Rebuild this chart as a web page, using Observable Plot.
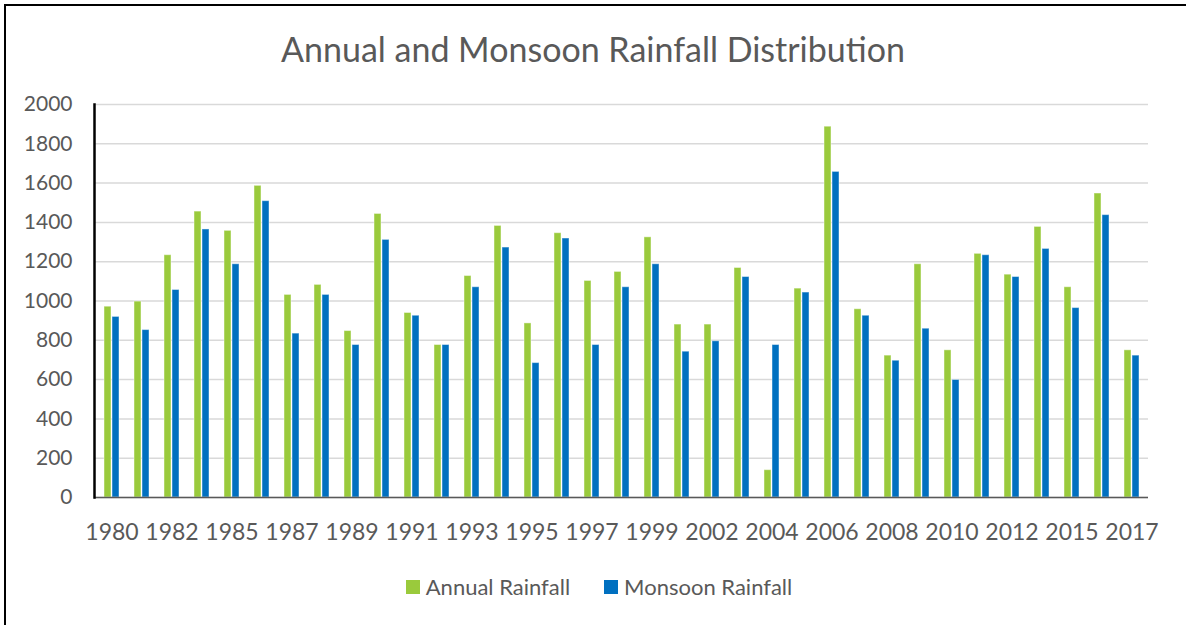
<!DOCTYPE html>
<html>
<head>
<meta charset="utf-8">
<script src="https://cdn.jsdelivr.net/npm/d3@7"></script>
<script src="https://cdn.jsdelivr.net/npm/@observablehq/plot@0.6"></script>
<style>
  html, body { margin: 0; padding: 0; background: #fff; }
  #wrap { position: relative; width: 1186px; height: 625px; overflow: hidden; font-family: Lato, "Open Sans", sans-serif; color: #595959; }
  #frame { position: absolute; left: 4px; top: 4px; right: -10px; bottom: -10px; border-left: 2px solid #000; border-top: 2px solid #000; }
  #title { position: absolute; left: 0; width: 1186px; top: 28px; text-align: center; font-size: 34px; color: #595959; }
  #chart { position: absolute; left: 0; top: 70px; }
  #legend { position: absolute; left: 0; width: 1198px; top: 573px; display: flex; justify-content: center; gap: 34px; font-size: 22px; color: #595959; }
  .item { display: flex; align-items: center; gap: 6px; }
  .sw { width: 14px; height: 14px; display: inline-block; }
</style>
</head>
<body>
<div id="wrap">
  <div id="frame"></div>
  <div id="title">Annual and Monsoon Rainfall Distribution</div>
  <div id="chart"></div>
  <div id="legend"></div>
</div>
<script>
const years = [1980,1981,1982,1984,1985,1986,1987,1988,1989,1990,1991,1992,1993,1994,1995,1996,1997,1998,1999,2001,2002,2003,2004,2005,2006,2007,2008,2009,2010,2011,2012,2014,2015,2016,2017];
const labeledYears = [1980,1982,1985,1987,1989,1991,1993,1995,1997,1999,2002,2004,2006,2008,2010,2012,2015,2017];
const annualRainfall = [971,997,1233,1455,1357,1586,1031,1082,847,1443,939,776,1127,1382,886,1345,1102,1148,1324,880,880,1168,139,1063,1887,958,722,1187,749,1240,1134,1377,1070,1547,749];
const monsoonRainfall = [919,852,1056,1364,1187,1508,834,1031,776,1311,925,776,1070,1272,684,1318,776,1070,1187,742,795,1122,776,1043,1657,925,696,859,598,1233,1122,1265,964,1437,722];
const seriesNames = ["Annual Rainfall", "Monsoon Rainfall"];
const seriesColors = ["#9aca3c", "#0070c0"];
const yTicks = [0,200,400,600,800,1000,1200,1400,1600,1800,2000];

const rows = years.map((y, i) => ({year: y, annual: annualRainfall[i], monsoon: monsoonRainfall[i]}));

const chart = Plot.plot({
  width: 1186,
  height: 500,
  marginTop: 34,
  marginBottom: 73,
  marginLeft: 94,
  marginRight: 38,
  style: {fontFamily: "Lato, 'Open Sans', sans-serif", color: "#595959", background: "transparent"},
  x: {type: "band", domain: years, paddingInner: 0.5, paddingOuter: 0.25, label: null},
  y: {domain: [0, 2000], label: null},
  marks: [
    Plot.ruleY(yTicks, {stroke: "#d9d9d9", strokeWidth: 1.5}),
    Plot.barY(rows, {x: "year", y: "annual", fill: seriesColors[0], insetRight: 8, stroke: "#ffffff", strokeOpacity: 0.45, strokeWidth: 1}),
    Plot.barY(rows, {x: "year", y: "monsoon", fill: seriesColors[1], insetLeft: 8, stroke: "#ffffff", strokeOpacity: 0.45, strokeWidth: 1}),
    Plot.ruleY([0], {stroke: "#595959", strokeWidth: 1.5}),
    Plot.frame({anchor: "left", stroke: "#000", strokeWidth: 2.5}),
    Plot.axisY({ticks: yTicks, tickSize: 0, tickPadding: 22, fontSize: 21, label: null, tickFormat: d => String(d), fill: "#595959"}),
    Plot.axisX({ticks: labeledYears, tickSize: 0, tickPadding: 26, fontSize: 23, label: null, tickFormat: d => String(d), fill: "#595959"})
  ]
});
document.getElementById("chart").appendChild(chart);

const legend = document.getElementById("legend");
seriesNames.forEach((name, i) => {
  const item = document.createElement("div");
  item.className = "item";
  const sw = document.createElement("span");
  sw.className = "sw";
  sw.style.background = seriesColors[i];
  const t = document.createElement("span");
  t.textContent = name;
  item.appendChild(sw);
  item.appendChild(t);
  legend.appendChild(item);
});
</script>
</body>
</html>
